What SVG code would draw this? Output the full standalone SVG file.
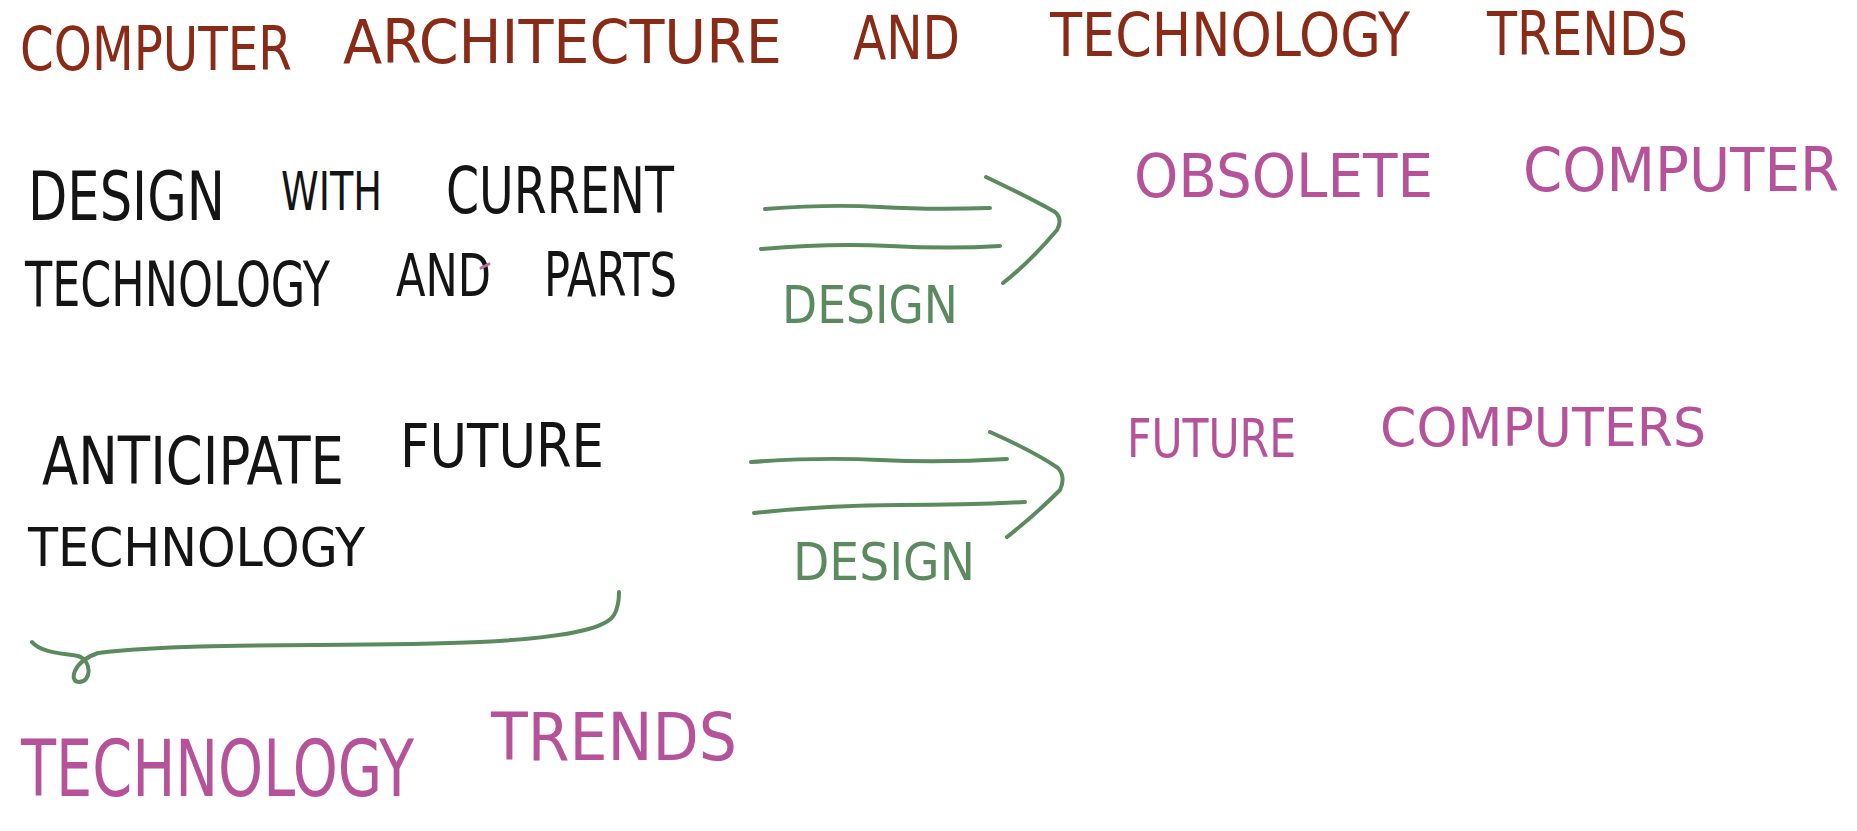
<svg xmlns="http://www.w3.org/2000/svg" width="1857" height="831" viewBox="0 0 1857 831">
<style>
text{font-family:"Liberation Sans Narrow","DejaVu Sans Condensed","Liberation Sans",sans-serif;font-weight:normal}
.title{fill:#8a2b17;font-size:60px}
.blk{fill:#141414}
.pink{fill:#b5529a}
.grn{fill:#5b8a5f;font-size:52px}
.ln{fill:none;stroke:#5b8a5f;stroke-width:4;stroke-linecap:round;stroke-linejoin:round}
</style>
<rect width="1857" height="831" fill="#ffffff"/>
<g id="title">
<text class="title" x="20" y="70" textLength="272" lengthAdjust="spacingAndGlyphs">COMPUTER</text>
<text class="title" x="343" y="63" textLength="439" lengthAdjust="spacingAndGlyphs">ARCHITECTURE</text>
<text class="title" x="853" y="59" textLength="107" lengthAdjust="spacingAndGlyphs">AND</text>
<text class="title" x="1050" y="56" textLength="360" lengthAdjust="spacingAndGlyphs">TECHNOLOGY</text>
<text class="title" x="1487" y="55" textLength="201" lengthAdjust="spacingAndGlyphs">TRENDS</text>
</g>
<g id="node-current">
<text class="blk" font-size="68" x="28" y="220" textLength="197" lengthAdjust="spacingAndGlyphs">DESIGN</text>
<text class="blk" font-size="54" x="281" y="210" textLength="101" lengthAdjust="spacingAndGlyphs">WITH</text>
<text class="blk" font-size="64" x="446" y="213" textLength="228" lengthAdjust="spacingAndGlyphs">CURRENT</text>
<text class="blk" font-size="62" x="25" y="306" textLength="305" lengthAdjust="spacingAndGlyphs">TECHNOLOGY</text>
<text class="blk" font-size="58" x="396" y="296" textLength="95" lengthAdjust="spacingAndGlyphs">AND</text>
<text class="blk" font-size="60" x="544" y="296" textLength="133" lengthAdjust="spacingAndGlyphs">PARTS</text>
<path d="M481,268 L489,264" stroke="#c06aa0" stroke-width="3" stroke-linecap="round" fill="none"/>
</g>
<g id="node-obsolete">
<text class="pink" font-size="60" x="1134" y="197" textLength="299" lengthAdjust="spacingAndGlyphs">OBSOLETE</text>
<text class="pink" font-size="60" x="1523" y="191" textLength="316" lengthAdjust="spacingAndGlyphs">COMPUTER</text>
</g>
<g id="node-anticipate">
<text class="blk" font-size="66" x="42" y="484" textLength="302" lengthAdjust="spacingAndGlyphs">ANTICIPATE</text>
<text class="blk" font-size="60" x="400" y="467" textLength="204" lengthAdjust="spacingAndGlyphs">FUTURE</text>
<text class="blk" font-size="54" x="28" y="566" textLength="337" lengthAdjust="spacingAndGlyphs">TECHNOLOGY</text>
</g>
<g id="node-future">
<text class="pink" font-size="54" x="1127" y="457" textLength="169" lengthAdjust="spacingAndGlyphs">FUTURE</text>
<text class="pink" font-size="54" x="1380" y="446" textLength="326" lengthAdjust="spacingAndGlyphs">COMPUTERS</text>
</g>
<g id="node-trends">
<text class="pink" font-size="78" x="21" y="796" textLength="393" lengthAdjust="spacingAndGlyphs">TECHNOLOGY</text>
<text class="pink" font-size="66" x="491" y="760" textLength="246" lengthAdjust="spacingAndGlyphs">TRENDS</text>
</g>
<g id="connectors">
<path class="ln" d="M765,209 Q830,204 880,207 T990,208"/>
<path class="ln" d="M761,249 Q830,243 890,246 T1000,246"/>
<path class="ln" d="M986,177 Q1030,198 1055,212 Q1063,219 1057,230 Q1030,262 1003,283"/>
<text class="grn" x="782" y="323" textLength="176" lengthAdjust="spacingAndGlyphs">DESIGN</text>
<path class="ln" d="M751,462 Q820,457 880,460 T1007,459"/>
<path class="ln" d="M754,513 Q830,505 900,505 T1025,502"/>
<path class="ln" d="M990,432 Q1035,452 1058,468 Q1066,477 1060,490 Q1035,515 1007,537"/>
<text class="grn" x="793" y="580" textLength="182" lengthAdjust="spacingAndGlyphs">DESIGN</text>
<path class="ln" d="M32,642 C40,652 60,653 78,656 C92,660 92,682 79,682 C69,682 72,662 98,653 C200,641 350,648 480,642 C560,638 605,630 614,615 C618,608 619,600 619,592"/>
</g>
</svg>
